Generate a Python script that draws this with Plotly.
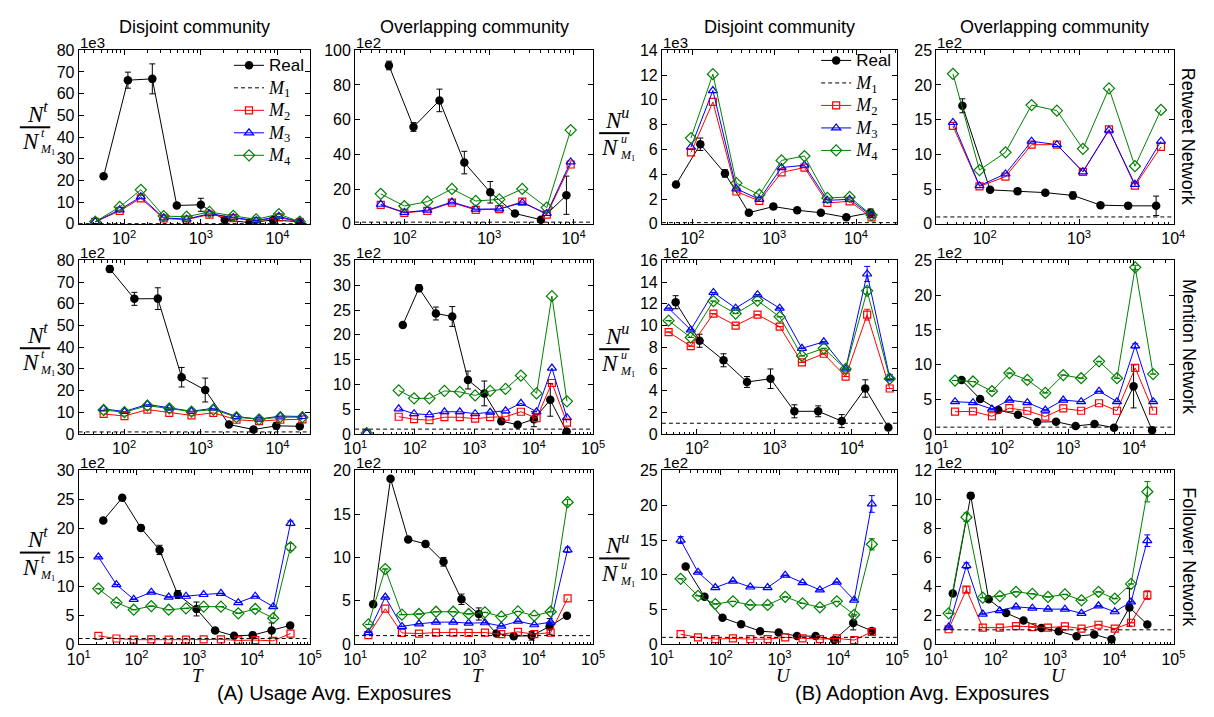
import math
import plotly.graph_objects as go

W, H = 1214, 717
SANS = "Liberation Sans, Arial, Helvetica, sans-serif"
SERIF = "Liberation Serif, Times New Roman, serif"
C_REAL, C_M2, C_M3, C_M4 = "#000000", "#ff0000", "#0000ff", "#008000"

# ---------------- data ----------------
# Row 1: Retweet network
r1c1_x_real = [54, 112, 233, 486, 1000, 2050, 4320, 8750, 19100]
r1c1_real = [21.9, 66.2, 66.8, 8.5, 8.8, 1.8, 0.6, 1.8, 1.0]
r1c1_real_err = [0, 3.7, 6.9, 0, 3.0, 0, 0, 0, 0]
r1c1_x_model = [42, 87.5, 165, 328, 652, 1295, 2650, 5260, 10400, 19500]
r1c1_m2 = [0.9, 6.0, 11.8, 2.5, 2.0, 4.3, 2.7, 1.3, 3.0, 0.8]
r1c1_m3 = [1.0, 6.5, 12.5, 2.8, 2.2, 4.7, 3.0, 1.5, 3.5, 0.9]
r1c1_m4 = [1.0, 7.8, 15.7, 3.6, 3.3, 5.5, 3.7, 2.1, 4.5, 1.0]

r1c2_x_real = [65, 127, 258, 508, 1030, 2020, 4100, 8220]
r1c2_real = [91.2, 55.8, 71.1, 35.3, 18.2, 6.0, 2.4, 16.5]
r1c2_real_err = [2.5, 2.5, 6.5, 6.5, 6.2, 0, 0, 11.0]
r1c2_x_model = [52, 99, 185, 362, 693, 1318, 2466, 4810, 9230]
r1c2_m2 = [10.9, 6.4, 7.5, 12.2, 8.1, 8.5, 12.8, 5.3, 34.2]
r1c2_m3 = [11.3, 6.6, 7.9, 12.6, 8.5, 8.6, 12.2, 6.0, 35.7]
r1c2_m4 = [17.3, 10.3, 12.8, 20.1, 13.2, 14.1, 20.1, 9.4, 54.0]

r1c3_x_real = [63, 125, 250, 490, 977, 1910, 3720, 7620, 15070]
r1c3_real = [3.17, 6.42, 4.07, 0.9, 1.4, 1.1, 0.9, 0.53, 0.9]
r1c3_real_err = [0, 0.5, 0.3, 0, 0.2, 0, 0, 0, 0.3]
r1c3_x_model = [96, 178, 345, 658, 1230, 2344, 4467, 8356, 15490]
r1c3_m2 = [5.76, 9.83, 2.61, 1.85, 4.15, 4.54, 1.69, 1.82, 0.53]
r1c3_m3 = [6.18, 10.75, 2.83, 1.98, 4.54, 4.73, 1.90, 1.98, 0.66]
r1c3_m4 = [6.92, 12.07, 3.28, 2.35, 5.12, 5.47, 2.09, 2.17, 0.71]

r1c4_x_real = [58, 114, 223, 439, 861, 1690, 3320, 6580]
r1c4_real = [17.0, 4.9, 4.7, 4.5, 4.1, 2.7, 2.6, 2.6]
r1c4_real_err = [1.0, 0, 0.4, 0.3, 0.5, 0.3, 0.4, 1.4]
r1c4_x_model = [46, 88, 166, 314, 583, 1100, 2080, 3920, 7400]
r1c4_m2 = [14.1, 5.4, 6.8, 11.4, 11.4, 7.5, 13.6, 5.5, 11.1]
r1c4_m3 = [14.6, 5.5, 7.2, 11.9, 11.4, 7.5, 13.5, 5.7, 11.9]
r1c4_m4 = [21.6, 7.75, 10.3, 17.1, 16.3, 10.8, 19.5, 8.3, 16.4]

# Row 2: Mention network
r2c1_x_real = [65, 136, 275, 562, 1140, 2330, 4860, 9640, 19500]
r2c1_real = [76.1, 62.3, 62.4, 26.2, 20.3, 4.4, 2.1, 3.8, 3.6]
r2c1_real_err = [1.5, 3.0, 5.0, 4.5, 5.5, 0, 0, 1.5, 0]
r2c1_x_model = [54, 101, 201, 388, 755, 1456, 2917, 5741, 10870, 21130]
r2c1_m2 = [9.3, 8.3, 11.3, 9.8, 8.6, 9.8, 6.6, 6.0, 6.6, 6.8]
r2c1_m3 = [11.6, 10.4, 13.7, 12.0, 10.5, 11.9, 8.1, 6.9, 8.3, 8.1]
r2c1_m4 = [11.1, 10.1, 13.1, 11.9, 10.4, 11.3, 7.8, 6.8, 7.8, 7.8]

r2c2_x_real = [63, 118, 227, 428, 787, 1480, 2860, 5380, 10100, 19050, 35900]
r2c2_real = [22.0, 29.4, 24.3, 23.7, 10.9, 8.2, 2.6, 1.9, 3.0, 6.9, 0.5]
r2c2_real_err = [0, 0.7, 1.3, 2.0, 1.8, 2.5, 0, 0, 1.5, 3.3, 0]
r2c2_x_model = [15.6, 29.7, 53.8, 97.5, 177, 316, 573, 1038, 1858, 3365, 6110, 11200, 20300, 36300]
r2c2_m2 = [0.1, None, 3.5, 3.0, 2.8, 3.4, 3.4, 3.1, 3.4, 3.5, 4.5, 3.2, 10.3, 2.3]
r2c2_m3 = [0.26, None, 5.1, 4.1, 3.9, 4.5, 4.5, 4.1, 4.4, 4.7, 6.2, 4.5, 13.3, 3.3]
r2c2_m4 = [0.2, None, 8.8, 7.2, 7.2, 8.7, 8.5, 7.8, 8.7, 9.1, 11.8, 8.2, 27.8, 6.6]

r2c3_x_real = [53, 108, 220, 442, 889, 1807, 3665, 7380, 14830, 29500]
r2c3_real = [12.15, 8.6, 6.8, 4.8, 5.1, 2.1, 2.1, 1.2, 4.2, 0.6]
r2c3_real_err = [0.6, 0.6, 0.6, 0.5, 0.9, 0.6, 0.5, 0.6, 0.8, 0]
r2c3_x_model = [43, 83, 163, 315, 604, 1167, 2259, 4325, 8280, 15700, 30700]
r2c3_m2 = [9.4, 8.1, 11.1, 10.0, 11.0, 9.9, 6.6, 7.4, 5.3, 11.0, 4.2]
r2c3_m3 = [11.6, 9.6, 13.05, 11.6, 12.85, 11.6, 7.9, 8.5, 6.0, 14.75, 5.2]
r2c3_m4 = [10.45, 8.9, 12.25, 11.1, 12.3, 10.8, 7.2, 7.9, 6.0, 13.2, 5.1]
r2c3_m2_err = [0, 0, 0, 0, 0, 0, 0, 0, 0, 0.5, 0]
r2c3_m3_err = [0, 0, 0, 0, 0, 0, 0, 0, 0, 0.7, 0.3]
r2c3_m4_err = [0, 0, 0, 0, 0, 0, 0, 0, 0, 0.3, 0]

r2c4_x_real = [24, 46, 87, 173, 339, 656, 1300, 2520, 4990, 9890, 18900]
r2c4_real = [7.8, 5.05, 3.46, 2.8, 1.73, 1.78, 1.17, 1.45, 0.93, 6.87, 0.56]
r2c4_real_err = [0, 0, 0, 0, 0, 0, 0, 0, 0, 3.1, 0]
r2c4_x_model = [19.1, 35.8, 69.5, 128, 240, 450, 843, 1578, 2951, 5530, 10470, 19600]
r2c4_m2 = [3.22, 3.27, 2.57, 3.74, 3.36, 2.52, 3.69, 3.36, 4.44, 3.36, 9.53, 3.36]
r2c4_m3 = [4.67, 4.53, 3.6, 4.9, 4.53, 3.46, 4.9, 4.67, 6.17, 4.67, 12.7, 4.67]
r2c4_m4 = [7.71, 7.57, 6.17, 8.79, 7.8, 5.93, 8.5, 8.04, 10.47, 8.04, 24.0, 8.64]
r2c4_m3_err = [0, 0, 0, 0, 0, 0, 0, 0, 0, 0, 0.3, 0]
r2c4_m4_err = [0, 0, 0, 0, 0, 0, 0, 0, 0, 0, 0.3, 0]

# Row 3: Follower network
r3c1_x_real = [26.5, 56.5, 119, 250, 517, 1090, 2290, 4870, 10230, 21800, 45700]
r3c1_real = [21.4, 25.3, 20.1, 16.3, 8.6, 6.1, 2.4, 1.46, 1.58, 2.4, 3.26]
r3c1_real_err = [0, 0.3, 0.5, 0.8, 0.7, 1.2, 0, 0, 0.5, 1.3, 0]
r3c1_x_model = [21.8, 44.8, 89.2, 180, 360, 718, 1449, 2891, 5768, 11350, 23220, 46340]
r3c1_m2 = [1.46, 1.0, 0.8, 0.85, 0.8, 0.8, 0.85, 0.85, 0.67, 0.73, 0.6, 1.86]
r3c1_m3 = [15.1, 10.3, 7.77, 9.0, 8.16, 8.3, 8.6, 8.8, 7.2, 8.3, 6.5, 20.9]
r3c1_m4 = [9.6, 7.2, 5.97, 6.6, 5.97, 6.2, 6.5, 6.5, 5.35, 6.1, 4.5, 16.8]
r3c1_m3_err = [0, 0, 0, 0, 0, 0, 0, 0, 0, 0, 0, 0.4]
r3c1_m4_err = [0, 0, 0, 0, 0, 0, 0, 0, 0, 0, 0, 0.6]

r3c2_x_real = [20, 39.2, 77.6, 152, 305, 611, 1195, 2366, 4624, 9270, 18580, 36300]
r3c2_real = [4.6, 19.06, 12.08, 11.56, 9.5, 5.18, 3.49, 1.24, 0.94, 0.98, 2.06, 3.3]
r3c2_real_err = [0, 0, 0, 0.3, 0.5, 0.6, 0.7, 0, 0, 0.5, 0.9, 0]
r3c2_x_model = [16.6, 32, 61, 118, 228, 445, 807, 1517, 2860, 5450, 10250, 19320, 37240]
r3c2_m2 = [1.05, 4.1, 1.31, 1.24, 1.35, 1.35, 1.31, 1.35, 1.16, 1.43, 1.16, 1.35, 5.29]
r3c2_m3 = [1.35, 5.44, 2.06, 2.36, 2.55, 2.55, 2.44, 2.48, 2.1, 2.66, 2.25, 2.55, 10.88]
r3c2_m4 = [2.29, 8.67, 3.41, 3.49, 3.75, 3.75, 3.49, 3.68, 3.19, 3.79, 3.30, 3.75, 16.36]
r3c2_m3_err = [0, 0, 0, 0, 0, 0, 0, 0, 0, 0, 0, 0, 0.3]
r3c2_m4_err = [0, 0, 0, 0, 0, 0, 0, 0, 0, 0, 0, 0, 0.3]

r3c3_x_real = [25.2, 52.8, 107, 222, 467, 968, 1985, 4120, 8550, 18000, 37300]
r3c3_real = [11.2, 6.84, 3.82, 2.88, 1.89, 1.70, 1.18, 1.18, 0.61, 3.07, 1.93]
r3c3_real_err = [0, 0, 0, 0, 0, 0, 0, 0, 0, 1.0, 0]
r3c3_x_model = [20.7, 40.9, 80.7, 161, 318, 627, 1250, 2466, 4864, 9460, 18660, 37300]
r3c3_m2 = [1.46, 0.99, 0.75, 0.85, 0.75, 0.75, 0.99, 0.85, 0.75, 0.85, 0.61, 1.79]
r3c3_m3 = [15.0, 10.38, 8.16, 9.1, 8.25, 8.16, 9.95, 8.87, 7.83, 8.96, 6.37, 20.2]
r3c3_m4 = [9.43, 6.98, 5.8, 6.18, 5.66, 5.66, 6.84, 5.9, 5.33, 6.18, 4.25, 14.4]
r3c3_m3_err = [0.5, 0, 0, 0, 0, 0, 0, 0, 0, 0, 0, 1.2]
r3c3_m4_err = [0, 0, 0, 0, 0, 0, 0, 0, 0, 0, 0, 0.8]

r3c4_x_real = [18.8, 37.8, 75.9, 150, 294, 591, 1156, 2322, 4600, 9010, 18070, 36300]
r3c4_real = [3.51, 10.27, 3.11, 2.16, 1.64, 1.13, 0.9, 0.56, 0.68, 0.34, 2.55, 1.37]
r3c4_real_err = [0, 0.2, 0, 0, 0, 0, 0, 0, 0, 0, 1.3, 0]
r3c4_x_model = [16, 32, 60.4, 117, 220, 415, 762, 1472, 2807, 5430, 10230, 19280, 36300]
r3c4_m2 = [1.04, 3.78, 1.15, 1.15, 1.26, 1.19, 1.15, 1.24, 1.08, 1.35, 1.08, 1.49, 3.4]
r3c4_m3 = [1.19, 5.43, 2.09, 2.32, 2.59, 2.5, 2.43, 2.43, 2.14, 2.66, 2.25, 2.93, 7.16]
r3c4_m4 = [2.14, 8.78, 3.22, 3.33, 3.63, 3.49, 3.27, 3.45, 3.04, 3.63, 3.15, 4.17, 10.54]
r3c4_m2_err = [0, 0.2, 0, 0, 0, 0, 0, 0, 0, 0, 0, 0, 0.3]
r3c4_m3_err = [0, 0.2, 0, 0, 0, 0, 0, 0, 0, 0, 0, 0, 0.4]
r3c4_m4_err = [0, 0.3, 0, 0, 0, 0, 0, 0, 0, 0, 0, 0, 0.7]

# baseline M1 level (ratio = 1) in displayed units, per panel
M1_LEVEL = [0.1, 1, 0.1, 1, 1, 1, 1, 1, 1, 1, 1, 1]

# axis settings
X_LOG_RANGE = [[1.41, 4.42], [1.415, 4.23], [1.63, 4.5], [1.49, 4.0],
               [1.41, 4.42], [1.0, 5.0], [1.55, 4.58], [1.0, 4.6],
               [1.0, 5.0], [1.0, 5.0], [1.0, 5.0], [1.0, 5.0]]
Y_MAX = [80, 100, 14, 25, 80, 35, 16, 25, 30, 20, 25, 12]
Y_DTICK = [10, 20, 2, 5, 10, 5, 2, 5, 5, 5, 5, 2]
Y_SCALE = ["1e3", "1e2", "1e3", "1e2"] + ["1e2"] * 8

COL_TITLES = ["Disjoint community", "Overlapping community", "Disjoint community", "Overlapping community"]
ROW_TITLES = ["Retweet Network", "Mention Network", "Follower Network"]
X_TITLES = ["T", "T", "U", "U"]
CAPTIONS = ["(A) Usage Avg. Exposures", "(B) Adoption Avg. Exposures"]

# ---------------- geometry (pixels) ----------------
COL_PX = [(68, 304), (350, 593), (663, 903), (943, 1185)]
ROW_PX = [(43, 221), (258, 436), (473, 651)]

Z = None
PANELS = [
    (r1c1_x_real, r1c1_real, r1c1_real_err, r1c1_x_model, r1c1_m2, r1c1_m3, r1c1_m4, Z, Z, Z),
    (r1c2_x_real, r1c2_real, r1c2_real_err, r1c2_x_model, r1c2_m2, r1c2_m3, r1c2_m4, Z, Z, Z),
    (r1c3_x_real, r1c3_real, r1c3_real_err, r1c3_x_model, r1c3_m2, r1c3_m3, r1c3_m4, Z, Z, Z),
    (r1c4_x_real, r1c4_real, r1c4_real_err, r1c4_x_model, r1c4_m2, r1c4_m3, r1c4_m4, Z, Z, Z),
    (r2c1_x_real, r2c1_real, r2c1_real_err, r2c1_x_model, r2c1_m2, r2c1_m3, r2c1_m4, Z, Z, Z),
    (r2c2_x_real, r2c2_real, r2c2_real_err, r2c2_x_model, r2c2_m2, r2c2_m3, r2c2_m4, Z, Z, Z),
    (r2c3_x_real, r2c3_real, r2c3_real_err, r2c3_x_model, r2c3_m2, r2c3_m3, r2c3_m4, r2c3_m2_err, r2c3_m3_err, r2c3_m4_err),
    (r2c4_x_real, r2c4_real, r2c4_real_err, r2c4_x_model, r2c4_m2, r2c4_m3, r2c4_m4, Z, r2c4_m3_err, r2c4_m4_err),
    (r3c1_x_real, r3c1_real, r3c1_real_err, r3c1_x_model, r3c1_m2, r3c1_m3, r3c1_m4, Z, r3c1_m3_err, r3c1_m4_err),
    (r3c2_x_real, r3c2_real, r3c2_real_err, r3c2_x_model, r3c2_m2, r3c2_m3, r3c2_m4, Z, r3c2_m3_err, r3c2_m4_err),
    (r3c3_x_real, r3c3_real, r3c3_real_err, r3c3_x_model, r3c3_m2, r3c3_m3, r3c3_m4, Z, r3c3_m3_err, r3c3_m4_err),
    (r3c4_x_real, r3c4_real, r3c4_real_err, r3c4_x_model, r3c4_m2, r3c4_m3, r3c4_m4, r3c4_m2_err, r3c4_m3_err, r3c4_m4_err),
]

DASH = "4px,3px"


def px_x(v):
    return v / W


def px_y(v):
    return 1 - v / H


def err_spec(arr, color):
    if arr is None:
        return None
    vals = [None if (e is None or e == 0) else e for e in arr]
    return dict(type="data", array=vals, visible=True, color=color, thickness=1, width=3)


def mname(i):
    return ('<span style="font-family:Liberation Serif;font-size:18px"><i>M</i><sub>%d</sub></span>' % i)


REAL_NAME = '<span style="font-size:17px">Real</span>'

fig = go.Figure()
layout = {}
shapes = []
annotations = []

for k, p in enumerate(PANELS):
    xr, yr, er, xm, m2, m3, m4, e2, e3, e4 = p
    r, c = divmod(k, 4)
    sid = "" if k == 0 else str(k + 1)
    xa, ya = "x" + sid, "y" + sid
    x0, x1 = COL_PX[c]
    y0, y1 = ROW_PX[r]
    lo, hi = X_LOG_RANGE[k]
    exps = [e for e in range(0, 7) if lo - 1e-6 <= e <= hi + 1e-6]
    minor_vals = [m * 10 ** e for e in range(0, 6) for m in range(2, 10)
                  if lo < math.log10(m * 10 ** e) < hi]
    layout["xaxis" + sid] = dict(
        type="log", domain=[px_x(x0), px_x(x1)], anchor=ya,
        range=[lo - 0.003, hi + 0.003],
        tickmode="array", tickvals=[10 ** e for e in exps],
        ticktext=["10<sup>%d</sup>" % e for e in exps],
        ticks="inside", ticklen=5, tickwidth=1, tickcolor="black",
        showline=True, linecolor="black", linewidth=1, mirror="ticks",
        showgrid=False, zeroline=False,
        tickfont=dict(family=SANS, size=16, color="black"),
        minor=dict(tickmode="array", tickvals=minor_vals, ticks="inside",
                   ticklen=2.5, tickwidth=1, tickcolor="black", showgrid=False),
    )
    ym = Y_MAX[k]
    layout["yaxis" + sid] = dict(
        domain=[px_y(y1), px_y(y0)], anchor=xa,
        range=[-ym * 0.001, ym * 1.001], tick0=0, dtick=Y_DTICK[k],
        ticks="inside", ticklen=5, tickwidth=1, tickcolor="black",
        showline=True, linecolor="black", linewidth=1, mirror="ticks",
        showgrid=False, zeroline=False,
        tickfont=dict(family=SANS, size=16, color="black"),
    )

    show = k in (0, 2)
    leg = "legend" if k == 0 else "legend2"

    fig.add_trace(go.Scatter(
        x=xr, y=yr, mode="lines+markers", name=REAL_NAME,
        line=dict(color=C_REAL, width=1),
        marker=dict(symbol="circle", size=8.5, color=C_REAL),
        error_y=err_spec(er, C_REAL),
        xaxis=xa, yaxis=ya, showlegend=show, legend=leg))
    if show:
        fig.add_trace(go.Scatter(
            x=[None], y=[None], mode="lines", name=mname(1),
            line=dict(color="black", width=1, dash=DASH),
            xaxis=xa, yaxis=ya, showlegend=True, legend=leg))
    for ys, es, col, sym, sz, nm in [
        (m2, e2, C_M2, "square-open", 7, mname(2)),
        (m3, e3, C_M3, "triangle-up-open", 8, mname(3)),
        (m4, e4, C_M4, "diamond-open", 8.5, mname(4)),
    ]:
        fig.add_trace(go.Scatter(
            x=xm, y=ys, mode="lines+markers", name=nm,
            line=dict(color=col, width=1),
            marker=dict(symbol=sym, size=sz, color=col, line=dict(color=col, width=1.2)),
            error_y=err_spec(es, col),
            xaxis=xa, yaxis=ya, showlegend=show, legend=leg, connectgaps=False))

    shapes.append(dict(type="line", xref=xa + " domain", x0=0, x1=1,
                       yref=ya, y0=M1_LEVEL[k], y1=M1_LEVEL[k],
                       line=dict(color="black", width=1, dash=DASH), layer="above"))

    annotations.append(dict(text=Y_SCALE[k], xref="paper", yref="paper",
                            x=px_x(x0 - 1), y=px_y(y0 - 8), xanchor="left", yanchor="middle",
                            showarrow=False, font=dict(family=SANS, size=15, color="black")))

# column titles and x titles
for c in range(4):
    x0, x1 = COL_PX[c]
    annotations.append(dict(text=COL_TITLES[c], xref="paper", yref="paper",
                            x=px_x((x0 + x1) / 2), y=px_y(19), xanchor="center", yanchor="middle",
                            showarrow=False, font=dict(family=SANS, size=18, color="black")))
    annotations.append(dict(text="<i>%s</i>" % X_TITLES[c], xref="paper", yref="paper",
                            x=px_x((x0 + x1) / 2 + 4), y=px_y(683), xanchor="center", yanchor="middle",
                            showarrow=False, font=dict(family=SERIF, size=19, color="black")))

# row titles
for r in range(3):
    y0, y1 = ROW_PX[r]
    annotations.append(dict(text=ROW_TITLES[r], xref="paper", yref="paper",
                            x=px_x(1200), y=px_y((y0 + y1) / 2), xanchor="center", yanchor="middle",
                            textangle=90, showarrow=False,
                            font=dict(family=SANS, size=18, color="black")))

# captions
annotations.append(dict(text=CAPTIONS[0], xref="paper", yref="paper",
                        x=px_x(328), y=px_y(701), xanchor="center", yanchor="middle",
                        showarrow=False, font=dict(family=SANS, size=20, color="black")))
annotations.append(dict(text=CAPTIONS[1], xref="paper", yref="paper",
                        x=px_x(928), y=px_y(701), xanchor="center", yanchor="middle",
                        showarrow=False, font=dict(family=SANS, size=20, color="black")))

# y-axis fraction labels
FRAC_POS = [(23, 122, "t"), (614, 128, "u"), (23, 348, "t"), (614, 349, "u"),
            (23, 557, "t"), (614, 563, "u")]


def ann(text, x, y, size, anchor="center", align="center"):
    return dict(text=text, xref="paper", yref="paper", x=px_x(x), y=px_y(y),
                xanchor=anchor, yanchor="middle", showarrow=False, align=align,
                borderpad=0, font=dict(family=SERIF, size=size, color="black"))


for cx, cy, s in FRAC_POS:
    shapes.append(dict(type="line", xref="paper", yref="paper",
                       x0=px_x(cx - 15), x1=px_x(cx + 16), y0=px_y(cy), y1=px_y(cy),
                       line=dict(color="black", width=2)))
    annotations.append(ann("<i>N</i><sup><i>%s</i></sup>" % s, cx + 3, cy - 15, 23))
    annotations.append(ann("<i>N</i>", cx - 4, cy + 15, 23))
    annotations.append(ann("<i>%s</i><br><i>M</i><sub>1</sub>" % s, cx + 5, cy + 15, 12,
                           anchor="left", align="left"))

legend_common = dict(xanchor="right", yanchor="top", bgcolor="rgba(0,0,0,0)",
                     borderwidth=0, font=dict(family=SANS, size=15, color="black"),
                     tracegroupgap=0, itemwidth=30, traceorder="normal")

layout.update(dict(
    width=W, height=H, margin=dict(l=0, r=0, t=0, b=0),
    paper_bgcolor="white", plot_bgcolor="white",
    shapes=shapes, annotations=annotations,
    legend=dict(x=px_x(303), y=px_y(42), **legend_common),
    legend2=dict(x=px_x(902), y=px_y(37), **legend_common),
    font=dict(family=SANS, color="black"),
))
fig.update_layout(**layout)
fig.write_html("out.html")
